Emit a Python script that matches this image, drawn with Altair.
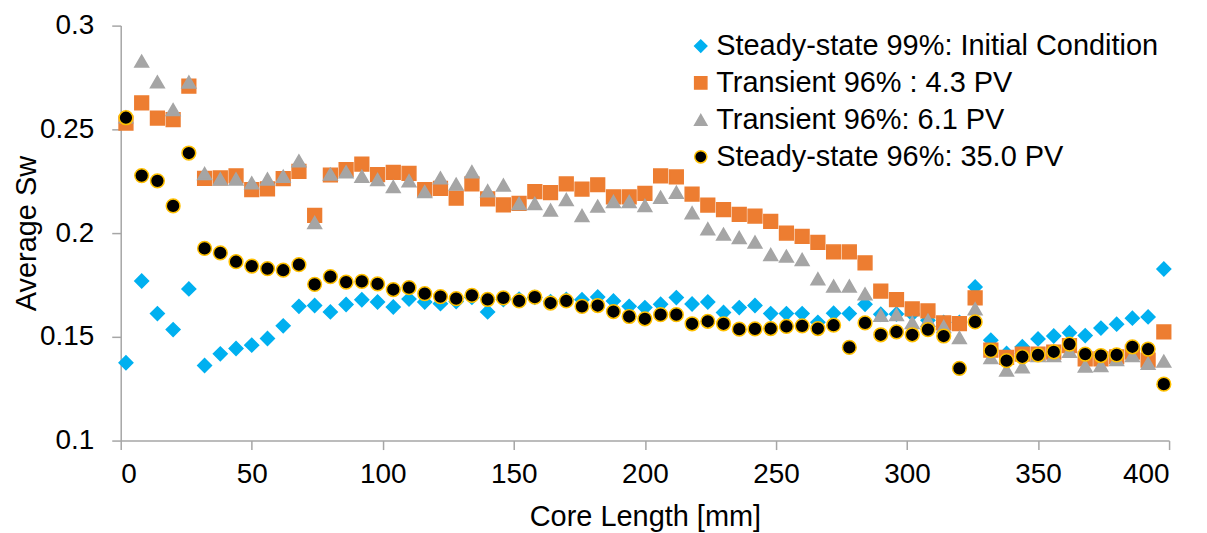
import altair as alt
import pandas as pd

# Core position of each slice [mm]
x_mm = [2, 8, 14, 20, 26, 32, 38, 44, 50, 56, 62, 68, 74, 80, 86, 92, 98, 104, 110, 116,
        122, 128, 134, 140, 146, 152, 158, 164, 170, 176, 182, 188, 194, 200, 206, 212, 218,
        224, 230, 236, 242, 248, 254, 260, 266, 272, 278, 284, 290, 296, 302, 308, 314, 320,
        326, 332, 338, 344, 350, 356, 362, 368, 374, 380, 386, 392, 398]

ss99 = [0.1375, 0.1769, 0.1612, 0.1535, 0.1731, 0.1362, 0.1418, 0.1444, 0.1460, 0.1492,
        0.1553, 0.1647, 0.1651, 0.1620, 0.1656, 0.1679, 0.1668, 0.1644, 0.1682, 0.1668,
        0.1660, 0.1670, 0.1690, 0.1620, 0.1680, 0.1682, 0.1690, 0.1670, 0.1680, 0.1679,
        0.1692, 0.1673, 0.1647, 0.1641, 0.1657, 0.1689, 0.1658, 0.1668, 0.1617, 0.1641,
        0.1651, 0.1612, 0.1612, 0.1612, 0.1570, 0.1614, 0.1612, 0.1657, 0.1609, 0.1610,
        0.1610, 0.1580, 0.1570, 0.1570, 0.1740, 0.1484, 0.1420, 0.1452, 0.1490, 0.1504,
        0.1520, 0.1506, 0.1542, 0.1561, 0.1590, 0.1596, 0.1827]

tr43 = [0.2530, 0.2628, 0.2554, 0.2547, 0.2708, 0.2264, 0.2266, 0.2276, 0.2210, 0.2213,
        0.2263, 0.2298, 0.2085, 0.2280, 0.2306, 0.2332, 0.2282, 0.2293, 0.2288, 0.2210,
        0.2216, 0.2168, 0.2237, 0.2165, 0.2136, 0.2143, 0.2200, 0.2195, 0.2237, 0.2212,
        0.2233, 0.2175, 0.2175, 0.2192, 0.2276, 0.2271, 0.2188, 0.2135, 0.2113, 0.2090,
        0.2082, 0.2056, 0.2000, 0.1984, 0.1955, 0.1909, 0.1909, 0.1857, 0.1720, 0.1679,
        0.1635, 0.1625, 0.1567, 0.1564, 0.1688, 0.1436, 0.1401, 0.1417, 0.1417, 0.1426,
        0.1458, 0.1394, 0.1394, 0.1404, 0.1426, 0.1388, 0.1524]

tr61 = [0.2560, 0.2829, 0.2729, 0.2595, 0.2728, 0.2287, 0.2261, 0.2261, 0.2242, 0.2261,
        0.2274, 0.2348, 0.2051, 0.2284, 0.2295, 0.2274, 0.2258, 0.2224, 0.2252, 0.2200,
        0.2266, 0.2236, 0.2296, 0.2204, 0.2232, 0.2143, 0.2143, 0.2111, 0.2162, 0.2085,
        0.2130, 0.2152, 0.2152, 0.2133, 0.2173, 0.2197, 0.2098, 0.2021, 0.1995, 0.1979,
        0.1957, 0.1897, 0.1889, 0.1873, 0.1780, 0.1745, 0.1745, 0.1707, 0.1604, 0.1607,
        0.1569, 0.1580, 0.1550, 0.1497, 0.1635, 0.1400, 0.1340, 0.1356, 0.1410, 0.1410,
        0.1430, 0.1359, 0.1362, 0.1390, 0.1410, 0.1372, 0.1383]

ss35 = [0.2556, 0.2277, 0.2252, 0.2131, 0.2386, 0.1926, 0.1905, 0.1862, 0.1841, 0.1829,
        0.1821, 0.1848, 0.1753, 0.1790, 0.1764, 0.1767, 0.1755, 0.1728, 0.1737, 0.1708,
        0.1694, 0.1684, 0.1700, 0.1680, 0.1688, 0.1673, 0.1691, 0.1663, 0.1673, 0.1647,
        0.1651, 0.1622, 0.1598, 0.1587, 0.1607, 0.1607, 0.1563, 0.1575, 0.1563, 0.1537,
        0.1538, 0.1540, 0.1550, 0.1553, 0.1540, 0.1556, 0.1449, 0.1567, 0.1510, 0.1524,
        0.1510, 0.1535, 0.1504, 0.1348, 0.1572, 0.1433, 0.1385, 0.1404, 0.1413, 0.1428,
        0.1465, 0.1417, 0.1410, 0.1413, 0.1452, 0.1441, 0.1272]

names = ["Steady-state 99%: Initial Condition", "Transient 96% : 4.3 PV",
         "Transient 96%: 6.1 PV", "Steady-state 96%: 35.0 PV"]
fills = ["#00B0F0", "#ED7D31", "#A5A5A5", "#000000"]
strokes = ["#00B0F0", "#ED7D31", "#A5A5A5", "#FFC000"]
shapes = ["diamond", "square", "triangle-up", "circle"]

x_ticks = [0, 50, 100, 150, 200, 250, 300, 350, 400]
y_ticks = [0.1, 0.15, 0.2, 0.25, 0.3]

rows = []
for name, vals in zip(names, [ss99, tr43, tr61, ss35]):
    for xv, yv in zip(x_mm, vals):
        rows.append({"x": xv, "y": yv, "series": name})
df = pd.DataFrame(rows)

FONT = "Liberation Sans"

legend = alt.Legend(
    title=None, orient="none", legendX=567, legendY=6, padding=0,
    labelFont=FONT, labelFontSize=29, labelColor="#000000", labelLimit=800,
    symbolSize=150, symbolStrokeWidth=1.5, symbolOpacity=1,
    rowPadding=7, labelOffset=1,
)

chart = alt.Chart(df).mark_point(filled=True, size=190, strokeWidth=1.5, opacity=1).encode(
    x=alt.X("x:Q", scale=alt.Scale(domain=[0, 400], nice=False, zero=False),
            axis=alt.Axis(values=x_ticks, format="d", title="Core Length [mm]",
                          labelBaseline="alphabetic", labelPadding=33, tickSize=9,
                          titleY=85, titleBaseline="alphabetic")),
    y=alt.Y("y:Q", scale=alt.Scale(domain=[0.1, 0.3], nice=False, zero=False),
            axis=alt.Axis(values=y_ticks, format="~g", title="Average Sw",
                          labelPadding=18, tickSize=9,
                          titleX=-85, titleBaseline="alphabetic")),
    fill=alt.Fill("series:N", scale=alt.Scale(domain=names, range=fills), legend=legend),
    stroke=alt.Stroke("series:N", scale=alt.Scale(domain=names, range=strokes), legend=legend),
    shape=alt.Shape("series:N", scale=alt.Scale(domain=names, range=shapes), legend=legend),
).properties(
    width=1051, height=416,
    padding={"left": 113, "top": 17, "right": 30, "bottom": 91},
    autosize=alt.AutoSizeParams(type="none"),
    background="#FFFFFF",
).configure_view(
    stroke="transparent"
).configure_axis(
    grid=False, domainColor="#A6A6A6", domainWidth=1.5, tickColor="#A6A6A6", tickWidth=1.5,
    labelFont=FONT, labelFontSize=28, labelColor="#000000",
    titleFont=FONT, titleFontSize=29, titleColor="#000000", titleFontWeight="normal",
)

chart.save("out.html", embed_options={"renderer": "svg", "actions": False})
